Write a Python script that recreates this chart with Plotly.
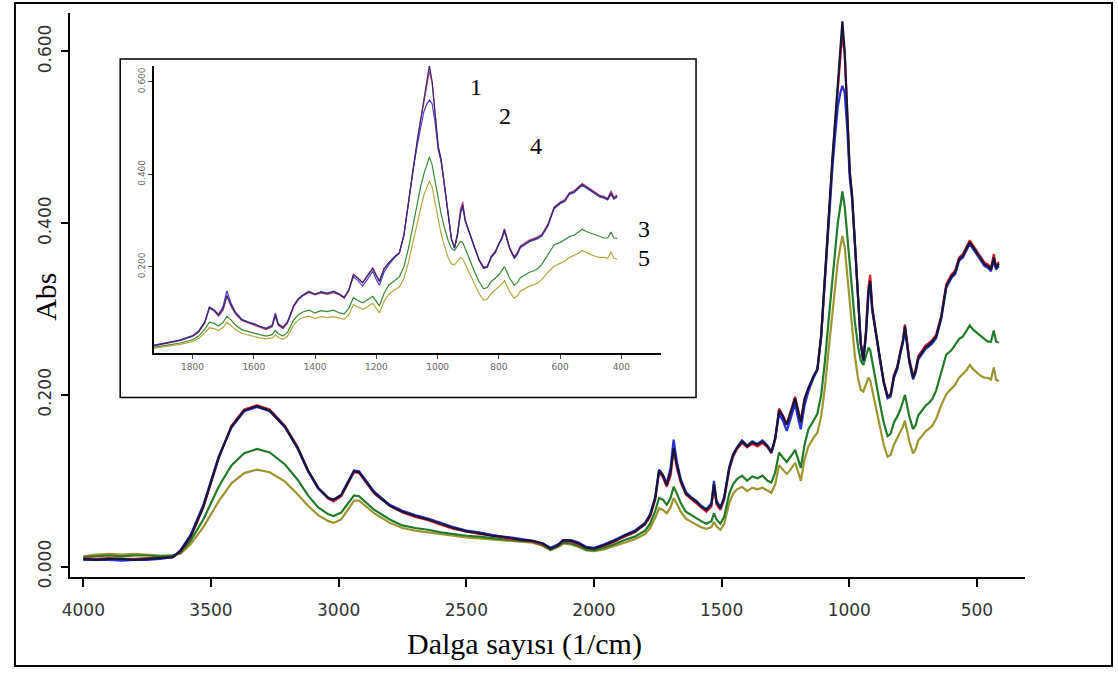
import plotly.graph_objects as go

# Wavenumbers (1/cm)
wavenumber = [4000,3950,3900,3850,3800,3750,3700,3650,
    3620,3580,3530,3470,3420,3370,3320,3270,3210,3160,
    3120,3080,3040,3020,2990,2960,2940,2920,2900,2860,
    2800,2750,2700,2650,2600,2550,2500,2450,2400,2360,
    2320,2280,2240,2200,2170,2140,2120,2090,2060,2030,
    2000,1960,1920,1880,1840,1800,1780,1760,1745,1730,
    1715,1700,1688,1675,1660,1640,1620,1600,1580,1560,
    1540,1530,1520,1505,1490,1470,1455,1440,1420,1400,
    1380,1360,1340,1320,1305,1290,1275,1260,1245,1230,
    1212,1200,1190,1175,1160,1140,1125,1110,1095,1080,
    1065,1055,1045,1035,1027,1018,1008,998,989,978,
    965,955,945,935,925,918,910,895,880,865,
    850,838,825,812,800,790,782,775,765,750,
    740,730,715,700,690,675,660,640,620,600,
    585,570,555,540,528,515,500,484,470,457,
    445,434,425,414]

s1_red = [0.010,0.009,0.010,0.009,0.009,0.010,0.010,0.011,
    0.017,0.034,0.069,0.126,0.164,0.183,0.188,0.183,0.164,0.139,
    0.112,0.091,0.079,0.076,0.082,0.099,0.110,0.109,0.101,0.085,
    0.071,0.063,0.058,0.054,0.049,0.044,0.041,0.038,0.036,0.034,
    0.032,0.031,0.029,0.026,0.021,0.025,0.030,0.029,0.026,0.022,
    0.021,0.024,0.029,0.035,0.040,0.049,0.058,0.078,0.110,0.104,
    0.093,0.106,0.136,0.115,0.098,0.084,0.079,0.075,0.069,0.064,
    0.070,0.092,0.073,0.066,0.078,0.113,0.128,0.137,0.144,0.139,
    0.143,0.140,0.144,0.139,0.132,0.148,0.184,0.176,0.166,0.180,
    0.198,0.182,0.170,0.196,0.208,0.221,0.229,0.268,0.338,0.418,
    0.478,0.518,0.556,0.596,0.622,0.598,0.528,0.458,0.431,0.378,
    0.309,0.259,0.242,0.274,0.325,0.340,0.302,0.271,0.241,0.216,
    0.199,0.201,0.223,0.233,0.251,0.264,0.282,0.264,0.242,0.222,
    0.230,0.245,0.252,0.258,0.260,0.264,0.270,0.292,0.329,0.340,
    0.345,0.360,0.364,0.372,0.380,0.374,0.367,0.360,0.354,0.352,
    0.348,0.364,0.350,0.355]

s2_black = [0.009,0.008,0.009,0.009,0.008,0.009,0.010,0.011,
    0.018,0.035,0.070,0.127,0.163,0.182,0.187,0.182,0.163,0.138,
    0.112,0.092,0.080,0.078,0.083,0.100,0.111,0.110,0.102,0.086,
    0.071,0.064,0.059,0.055,0.050,0.045,0.041,0.039,0.036,0.035,
    0.033,0.031,0.030,0.027,0.021,0.025,0.031,0.030,0.027,0.022,
    0.021,0.025,0.030,0.036,0.041,0.050,0.060,0.080,0.112,0.106,
    0.095,0.110,0.138,0.118,0.100,0.085,0.080,0.076,0.070,0.066,
    0.072,0.096,0.075,0.068,0.080,0.115,0.130,0.138,0.146,0.140,
    0.145,0.142,0.146,0.140,0.133,0.150,0.182,0.175,0.165,0.178,
    0.196,0.180,0.168,0.195,0.208,0.222,0.230,0.270,0.340,0.420,
    0.480,0.520,0.560,0.600,0.635,0.600,0.530,0.460,0.433,0.380,
    0.310,0.260,0.240,0.270,0.320,0.333,0.300,0.270,0.240,0.215,
    0.198,0.200,0.222,0.232,0.250,0.262,0.280,0.262,0.240,0.220,
    0.228,0.243,0.250,0.256,0.258,0.262,0.268,0.290,0.327,0.338,
    0.343,0.358,0.362,0.370,0.378,0.372,0.365,0.358,0.352,0.350,
    0.346,0.360,0.348,0.353]

s4_blue = [0.008,0.008,0.008,0.007,0.008,0.008,0.009,0.011,
    0.019,0.037,0.072,0.128,0.162,0.181,0.186,0.181,0.162,0.137,
    0.111,0.091,0.080,0.078,0.084,0.101,0.112,0.111,0.103,0.087,
    0.072,0.065,0.060,0.056,0.051,0.046,0.042,0.040,0.037,0.035,
    0.034,0.032,0.030,0.027,0.022,0.026,0.031,0.031,0.028,0.023,
    0.022,0.026,0.031,0.037,0.042,0.051,0.061,0.081,0.113,0.107,
    0.097,0.115,0.148,0.122,0.102,0.087,0.081,0.077,0.071,0.067,
    0.074,0.100,0.077,0.069,0.081,0.116,0.131,0.139,0.147,0.141,
    0.146,0.143,0.147,0.141,0.134,0.149,0.178,0.170,0.158,0.172,
    0.190,0.172,0.160,0.188,0.204,0.220,0.229,0.268,0.336,0.412,
    0.468,0.503,0.535,0.552,0.560,0.552,0.510,0.452,0.428,0.378,
    0.309,0.260,0.240,0.268,0.316,0.328,0.298,0.269,0.239,0.214,
    0.196,0.198,0.220,0.230,0.248,0.260,0.277,0.260,0.238,0.218,
    0.226,0.241,0.248,0.254,0.256,0.260,0.266,0.288,0.325,0.336,
    0.341,0.356,0.360,0.368,0.376,0.370,0.363,0.356,0.350,0.348,
    0.344,0.356,0.346,0.350]

s3_green = [0.011,0.012,0.013,0.012,0.013,0.013,0.012,0.013,
    0.016,0.030,0.055,0.093,0.118,0.132,0.137,0.133,0.119,0.101,
    0.083,0.069,0.061,0.059,0.063,0.075,0.083,0.082,0.077,0.066,
    0.055,0.048,0.045,0.043,0.040,0.038,0.036,0.035,0.033,0.032,
    0.031,0.030,0.029,0.025,0.020,0.024,0.028,0.027,0.024,0.020,
    0.019,0.022,0.026,0.031,0.035,0.042,0.050,0.065,0.080,0.078,
    0.072,0.080,0.093,0.085,0.074,0.064,0.060,0.057,0.053,0.050,
    0.053,0.062,0.055,0.050,0.058,0.085,0.096,0.102,0.106,0.100,
    0.105,0.103,0.106,0.100,0.098,0.110,0.133,0.127,0.122,0.128,
    0.136,0.125,0.115,0.142,0.160,0.170,0.178,0.200,0.240,0.290,
    0.340,0.375,0.400,0.420,0.437,0.420,0.385,0.345,0.315,0.285,
    0.255,0.240,0.235,0.245,0.255,0.252,0.238,0.215,0.190,0.168,
    0.152,0.155,0.168,0.175,0.183,0.192,0.200,0.190,0.175,0.160,
    0.165,0.176,0.182,0.188,0.190,0.195,0.205,0.225,0.247,0.252,
    0.258,0.265,0.268,0.275,0.281,0.276,0.272,0.268,0.265,0.262,
    0.262,0.275,0.262,0.261]

s5_yellow = [0.012,0.014,0.015,0.014,0.015,0.014,0.013,0.013,
    0.015,0.026,0.046,0.076,0.097,0.109,0.113,0.110,0.099,0.084,
    0.071,0.060,0.053,0.051,0.055,0.068,0.077,0.077,0.072,0.062,
    0.051,0.045,0.042,0.040,0.038,0.036,0.034,0.033,0.032,0.031,
    0.030,0.029,0.028,0.024,0.019,0.023,0.027,0.026,0.023,0.019,
    0.018,0.020,0.024,0.028,0.032,0.038,0.045,0.057,0.068,0.066,
    0.062,0.069,0.080,0.073,0.064,0.056,0.052,0.049,0.046,0.044,
    0.046,0.052,0.047,0.043,0.050,0.074,0.085,0.090,0.093,0.088,
    0.092,0.090,0.092,0.088,0.086,0.096,0.118,0.113,0.108,0.113,
    0.121,0.110,0.100,0.125,0.140,0.150,0.156,0.175,0.210,0.255,
    0.300,0.330,0.355,0.372,0.385,0.372,0.340,0.300,0.272,0.245,
    0.218,0.206,0.204,0.212,0.220,0.217,0.205,0.185,0.163,0.142,
    0.128,0.130,0.142,0.150,0.157,0.163,0.170,0.160,0.146,0.132,
    0.137,0.147,0.153,0.158,0.160,0.164,0.172,0.188,0.201,0.207,
    0.212,0.220,0.224,0.229,0.235,0.230,0.226,0.222,0.220,0.220,
    0.218,0.232,0.218,0.216]

main_xticks = [4000, 3500, 3000, 2500, 2000, 1500, 1000, 500]
main_yticks = [0.0, 0.2, 0.4, 0.6]
inset_xticks = [1800, 1600, 1400, 1200, 1000, 800, 600, 400]
inset_yticks = [0.2, 0.4, 0.6]

series = [
    ("5", s5_yellow, "#9c9630", "#b0aa40"),
    ("3", s3_green, "#237a2a", "#3a8a3a"),
    ("1", s1_red, "#e02030", "#d0407a"),
    ("4", s4_blue, "#2a30d8", "#4a40c8"),
    ("2", s2_black, "#161638", "#3a2a6a"),
]

W, H = 1118, 679
fig = go.Figure()
for name, ys, col, icol in series:
    fig.add_trace(go.Scatter(x=wavenumber, y=ys, mode="lines", name=name,
                             line=dict(color=col, width=2.2), xaxis="x", yaxis="y",
                             showlegend=False))
for name, ys, col, icol in series:
    fig.add_trace(go.Scatter(x=wavenumber, y=ys, mode="lines", name=name,
                             line=dict(color=icol, width=1.2), xaxis="x2", yaxis="y2",
                             showlegend=False))

def px(x):
    return x / W

def py(y):
    return 1 - y / H

tickfont = dict(family="DejaVu Sans", size=17, color="#333333")
smallfont = dict(family="DejaVu Sans", size=9, color="#666666")

fig.update_layout(
    width=W, height=H,
    margin=dict(l=0, r=0, t=0, b=0),
    paper_bgcolor="white", plot_bgcolor="rgba(0,0,0,0)",
    xaxis=dict(domain=[px(62), px(1024)], range=[4054, 313], anchor="y",
               tickvals=main_xticks, ticktext=[str(v) for v in main_xticks],
               showgrid=False, zeroline=False, showline=True, linecolor="black",
               linewidth=2, ticks="outside", ticklen=8, tickwidth=2,
               tickcolor="black", tickfont=tickfont, ticklabelstandoff=8),
    yaxis=dict(domain=[py(587), py(13)], range=[-0.0126, 0.645], anchor="x",
               tickvals=main_yticks, tickformat=".3f", tickangle=-90,
               showgrid=False, zeroline=False, showline=True, linecolor="black",
               linewidth=2, ticks="outside", ticklen=7, tickwidth=2,
               tickcolor="black", tickfont=tickfont, ticklabelstandoff=3),
    xaxis2=dict(domain=[px(147), px(658)], range=[1926, 270], anchor="y2",
                tickvals=inset_xticks, ticktext=[str(v) for v in inset_xticks],
                showgrid=False, zeroline=False, showline=True, linecolor="black",
                linewidth=1.5, ticks="outside", ticklen=4, tickwidth=1,
                tickcolor="#444", tickfont=smallfont),
    yaxis2=dict(domain=[py(359), py(67)], range=[0.013, 0.634], anchor="x2",
                tickvals=inset_yticks, tickformat=".3f", tickangle=-90,
                showgrid=False, zeroline=False, showline=True, linecolor="black",
                linewidth=1.5, ticks="outside", ticklen=4, tickwidth=1,
                tickcolor="#444", tickfont=smallfont),
    shapes=[
        dict(type="rect", xref="paper", yref="paper", x0=px(7), x1=px(1112),
             y0=py(677), y1=py(3), line=dict(color="black", width=2), layer="below"),
        dict(type="rect", xref="paper", yref="paper", x0=px(113), x1=px(693),
             y0=py(404), y1=py(60), line=dict(color="black", width=1.5),
             fillcolor="white", layer="below"),
    ],
)

serif = "Liberation Serif"
annots = [
    dict(text="Abs", x=px(37), y=py(302), textangle=-90, size=30),
    dict(text="Dalga sayısı (1/cm)", x=px(520), y=py(655), textangle=0, size=30),
    dict(text="1", x=px(471), y=py(88), textangle=0, size=24),
    dict(text="2", x=px(501), y=py(118), textangle=0, size=24),
    dict(text="4", x=px(532), y=py(148), textangle=0, size=24),
    dict(text="3", x=px(641), y=py(233), textangle=0, size=24),
    dict(text="5", x=px(641), y=py(262), textangle=0, size=24),
]
for a in annots:
    fig.add_annotation(text=a["text"], x=a["x"], y=a["y"], xref="paper", yref="paper",
                       showarrow=False, textangle=a["textangle"],
                       xanchor="center", yanchor="middle",
                       font=dict(family=serif, size=a["size"], color="black"))

fig.write_html("out.html")
